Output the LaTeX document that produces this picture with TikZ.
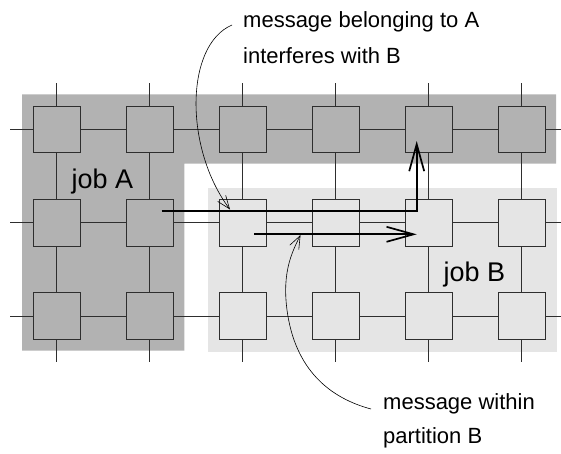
\documentclass[tikz,border=0pt]{standalone}
\usepackage{fontspec}
\setmainfont{Liberation Sans}
\usetikzlibrary{arrows.meta}
\definecolor{darkshade}{gray}{0.70}
\definecolor{lightshade}{gray}{0.90}
\definecolor{inkgray}{gray}{0.18}
\tikzset{
  gridline/.style={draw=inkgray, line width=0.8pt},
  boxbase/.style={draw=inkgray, line width=0.9pt, minimum size=46.7pt, inner sep=0pt},
  darkbox/.style={boxbase, fill=darkshade},
  lightbox/.style={boxbase, fill=lightshade},
  thickmsg/.style={draw=black, line width=1.7pt, -{Straight Barb[length=27pt,width=15pt]}},
  callout/.style={draw=black, line width=0.6pt, -{Straight Barb[length=13pt,width=10pt]}},
  annot/.style={font=\fontsize{22}{22}\selectfont, anchor=base west, inner sep=0pt},
  joblabel/.style={font=\fontsize{27}{27}\selectfont, anchor=base west, inner sep=0pt}
}
\begin{document}
\begin{tikzpicture}[x=1pt,y=-1pt]
\useasboundingbox (0,0) rectangle (561,453);
% partitions
\fill[darkshade] (22,94.3) -- (556,94.3) -- (556,163.7) -- (184.3,163.7) -- (184.3,350.7) -- (22,350.7) -- cycle;
\fill[lightshade] (208.3,187.7) rectangle (556.7,351.7);
% grid wires
\foreach \y in {129.3,222.6,316} \draw[gridline] (10,\y) -- (561,\y);
\foreach \x in {56.7,149.7,242.7,335.7,428.7,521.7} \draw[gridline] (\x,83.3) -- (\x,362.3);
% nodes of the mesh
\node[darkbox] (b11) at (56.7,129.3) {};
\node[darkbox] (b12) at (149.7,129.3) {};
\node[darkbox] (b13) at (242.7,129.3) {};
\node[darkbox] (b14) at (335.7,129.3) {};
\node[darkbox] (b15) at (428.7,129.3) {};
\node[darkbox] (b16) at (521.7,129.3) {};
\node[darkbox] (b21) at (56.7,222.6) {};
\node[darkbox] (b22) at (149.7,222.6) {};
\node[lightbox] (b23) at (242.7,222.6) {};
\node[lightbox] (b24) at (335.7,222.6) {};
\node[lightbox] (b25) at (428.7,222.6) {};
\node[lightbox] (b26) at (521.7,222.6) {};
\node[darkbox] (b31) at (56.7,316) {};
\node[darkbox] (b32) at (149.7,316) {};
\node[lightbox] (b33) at (242.7,316) {};
\node[lightbox] (b34) at (335.7,316) {};
\node[lightbox] (b35) at (428.7,316) {};
\node[lightbox] (b36) at (521.7,316) {};
% labels
\node[joblabel] (jobA) at (71.5,188.3) {job A};
\node[joblabel] (jobB) at (443.3,281.7) {job B};
\node[annot] (t1) at (243,27.3) {message belonging to A};
\node[annot] (t2) at (243,63) {interferes with B};
\node[annot] (t3) at (383,409) {message within};
\node[annot] (t4) at (383,443) {partition B};
% messages
\coordinate (m1s) at (161.7,211);
\coordinate (m1c) at (416.7,211);
\coordinate (m1e) at (416.7,141);
\draw[thickmsg] (m1s) -- (m1c) -- (m1e);
\coordinate (m2s) at (254.3,234.3);
\coordinate (m2e) at (416.7,234.3);
\draw[thickmsg] (m2s) -- (m2e);
% callouts
\coordinate (c1s) at (232,25);
\coordinate (c1e) at (230,209.5);
\draw[callout] (c1s) .. controls (185,45) and (184,148) .. (c1e);
\coordinate (c2s) at (371,409);
\coordinate (c2m) at (287,310);
\coordinate (c2e) at (300.5,235);
\draw[callout] (c2s) .. controls (330,398) and (295,370) .. (c2m) .. controls (282,272) and (292,252) .. (c2e);
\end{tikzpicture}
\end{document}
